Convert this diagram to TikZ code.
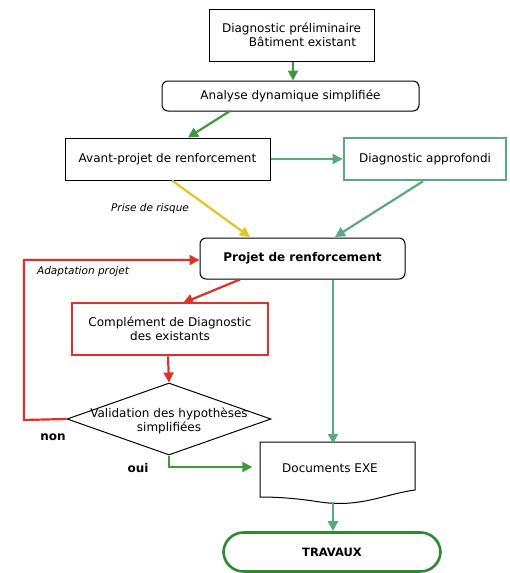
\documentclass[tikz,border=0pt]{standalone}
\usepackage{fontspec}
\setmainfont{DejaVu Sans}
\usetikzlibrary{arrows.meta,shapes.geometric,shapes.misc}
\definecolor{gA}{HTML}{3E9A3A}
\definecolor{tA}{HTML}{5AAA80}
\definecolor{rA}{HTML}{E0302A}
\definecolor{yA}{HTML}{E8C21E}
\definecolor{gT}{HTML}{2E8A2E}
\tikzset{
  box/.style={draw=black, line width=1pt, fill=white, inner sep=0pt, font=\fontsize{12}{14.5}\selectfont, align=center},
  rbox/.style={box, rounded corners=6pt},
  redbox/.style={box, draw=rA, line width=2.6pt},
  greenbox/.style={box, draw=tA, line width=2.6pt},
  arr/.style={line width=2.2pt, -{Triangle[length=10pt,width=10pt]}},
  lbl/.style={font=\fontsize{10.5}{12}\selectfont\itshape},
  blbl/.style={font=\fontsize{12}{14}\selectfont\bfseries}
}
\begin{document}
\begin{tikzpicture}[x=1pt,y=-1pt]
\useasboundingbox (0,0) rectangle (510,573);
\node[box, minimum width=165pt, minimum height=52pt] (diag) at (291.5,35) {Diagnostic préliminaire\\\hspace*{22pt}Bâtiment existant};
\node[rbox, minimum width=257pt, minimum height=30pt] (ana) at (290.5,96) {Analyse dynamique simplifiée};
\node[box, minimum width=205pt, minimum height=42pt] (avp) at (167.5,159) {Avant-projet de renforcement};
\node[greenbox, minimum width=162pt, minimum height=42pt] (appro) at (425,159) {Diagnostic approfondi};
\node[rbox, minimum width=205pt, minimum height=41pt, font=\fontsize{12}{14.5}\selectfont\bfseries] (proj) at (302.5,258.5) {Projet de renforcement};
\node[redbox, minimum width=196pt, minimum height=52pt] (comp) at (170,329) {Complément de Diagnostic\\des existants};
\node[diamond, draw=black, line width=1pt, fill=white, aspect=2.8, minimum width=204pt, minimum height=72pt, inner sep=0pt] (valid) at (169,419) {};
\node[font=\fontsize{12}{14.5}\selectfont, align=center] (validt) at (169,421) {Validation des hypothèses\\simplifiées};
% document shape
\draw[line width=1pt, fill=white] (260,442) -- (415,442) -- (415,490) .. controls (385,494) and (360,508) .. (320,502) .. controls (295,498) and (275,497) .. (260,497) -- cycle;
\node[font=\fontsize{12}{14.5}\selectfont, minimum width=155pt, minimum height=48pt, inner sep=0pt] (docs) at (330,468) {Documents EXE};
\coordinate (docsb) at (333,502);
\node[draw=gT, line width=2.6pt, rounded corners=20pt, minimum width=217pt, minimum height=39pt, font=\fontsize{11.5}{13}\selectfont\bfseries] (trav) at (332,552) {TRAVAUX};
% connectors
\draw[arr, gA] (diag.south -| 293,0) -- (ana.north -| 293,0);
\draw[arr, gA] (230,111) -- (avp.north -| 188,0);
\draw[arr, tA] (avp.east) -- (appro.west);
\draw[arr, yA] (avp.south -| 172,0) -- (250,237);
\node[lbl] (prise) at (150,209) {Prise de risque};
\draw[arr, tA] (appro.south -| 423,0) -- (335,237);
\draw[arr, rA] (proj.south -| 240,0) -- (183,303);
\draw[arr, rA] (comp.south -| 168,0) -- (valid.north);
\coordinate (c1) at (24,420);
\coordinate (c2) at (24,260);
\draw[arr, rA] (valid.west) -- (c1) -- (c2) -- (proj.west |- c2);
\node[lbl] (adap) at (83,272) {Adaptation projet};
\node[blbl] (non) at (53,437) {non};
\node[blbl] (oui) at (138,468) {oui};
\coordinate (c3) at (169,467);
\draw[arr, gA] (valid.south) -- (c3) -- (docs.west |- c3);
\draw[arr, tA] (proj.south -| 333,0) -- (docs.north -| 333,0);
\draw[arr, tA] (docsb) -- (trav.north -| 333,0);
\end{tikzpicture}
\end{document}
